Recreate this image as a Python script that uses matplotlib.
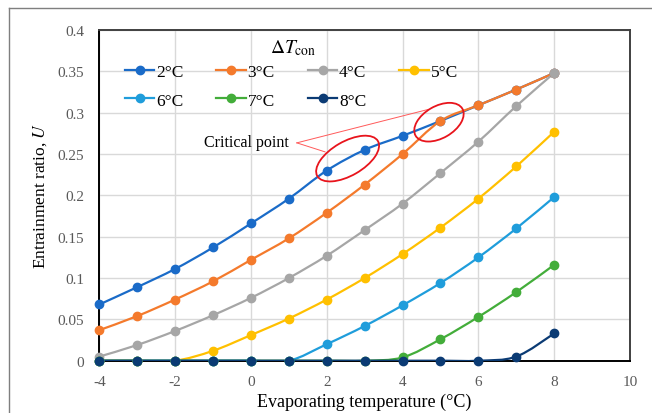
import matplotlib.pyplot as plt
import numpy as np
from matplotlib.path import Path
from matplotlib.patches import PathPatch, Ellipse
from matplotlib.lines import Line2D
from matplotlib.transforms import ScaledTranslation

plt.rcParams['font.family'] = ['Liberation Serif', 'DejaVu Serif']
plt.rcParams['mathtext.fontset'] = 'stix'
plt.rcParams['axes.unicode_minus'] = False

# evaporating temperature (degC)
t_evap = [-4, -3, -2, -1, 0, 1, 2, 3, 4, 5, 6, 7, 8]

# entrainment ratio U for each condensing temperature difference
u_2 = [0.068, 0.089, 0.111, 0.137, 0.166, 0.196, 0.230, 0.255, 0.272, 0.290, 0.309, 0.328, 0.348]
u_3 = [0.037, 0.054, 0.074, 0.096, 0.122, 0.148, 0.179, 0.213, 0.250, 0.290, 0.309, 0.328, 0.348]
u_4 = [0.005, 0.019, 0.036, 0.055, 0.076, 0.100, 0.127, 0.158, 0.190, 0.227, 0.265, 0.308, 0.348]
u_5 = [0.0, 0.0, 0.0, 0.012, 0.031, 0.051, 0.074, 0.100, 0.129, 0.161, 0.196, 0.235, 0.277]
u_6 = [0.0, 0.0, 0.0, 0.0, 0.0, 0.0, 0.020, 0.042, 0.067, 0.094, 0.125, 0.160, 0.198]
u_7 = [0.0, 0.0, 0.0, 0.0, 0.0, 0.0, 0.0, 0.0, 0.004, 0.026, 0.053, 0.083, 0.116]
u_8 = [0.0, 0.0, 0.0, 0.0, 0.0, 0.0, 0.0, 0.0, 0.0, 0.0, 0.0, 0.005, 0.033]

series = [u_2, u_3, u_4, u_5, u_6, u_7, u_8]
labels = ['2°C', '3°C', '4°C', '5°C', '6°C', '7°C', '8°C']
colors = ['#1a6bc8', '#f47a2c', '#a6a6a6', '#ffc000', '#1f9ddb', '#43ad3a', '#0b3b74']


def smooth_path(x, y):
    # Excel style smoothed line: cubic bezier through every point
    p = np.column_stack([x, y]).astype(float)
    n = len(p)
    verts = [p[0]]
    codes = [Path.MOVETO]
    for i in range(n - 1):
        p0 = p[i - 1] if i > 0 else p[i]
        p3 = p[i + 2] if i + 2 < n else p[i + 1]
        c1 = p[i] + (p[i + 1] - p0) / 6
        c2 = p[i + 1] - (p3 - p[i]) / 6
        verts += [c1, c2, p[i + 1]]
        codes += [Path.CURVE4] * 3
    return Path(verts, codes)


fig = plt.figure(figsize=(6.52, 4.14), dpi=100)
ax = fig.add_axes([0.1523, 0.1263, 0.8140, 0.7988])

handles = []
for vals, lab, col in zip(series, labels, colors):
    ax.add_patch(PathPatch(smooth_path(t_evap, vals), facecolor='none',
                           edgecolor=col, lw=1.6, zorder=3))
    ax.plot(t_evap, vals, ls='none', marker='o', ms=6, color=col,
            clip_on=False, zorder=4)
    handles.append(Line2D([], [], color=col, lw=1.6, marker='o', ms=6))

ax.set_xlim(-4, 10)
ax.set_ylim(0, 0.4)
ax.set_xticks(np.arange(-4, 11, 2))
ax.set_yticks(np.arange(0, 0.41, 0.05))
ax.set_yticklabels(['0', '0.05', '0.1', '0.15', '0.2', '0.25', '0.3', '0.35', '0.4'])
ax.grid(color='#d9d9d9', lw=1)
ax.set_axisbelow(True)
ax.tick_params(length=0, labelsize=11, labelcolor='#595959')
ax.tick_params(axis='x', pad=10.5)
ax.tick_params(axis='y', pad=11)
for s in ['left', 'bottom']:
    ax.spines[s].set_color('black')
    ax.spines[s].set_linewidth(1.4)
for s in ['top', 'right']:
    ax.spines[s].set_color('#404040')
    ax.spines[s].set_linewidth(1.4)

ax.set_xlabel('Evaporating temperature (°C)', fontsize=13, labelpad=3)
ax.set_ylabel('Entrainment ratio, $U$', fontsize=12.5, labelpad=6)

# legend: row 1 -> 2,3,4,5 ; row 2 -> 6,7,8
order = [0, 4, 1, 5, 2, 6, 3]
leg = ax.legend([handles[i] for i in order], [labels[i] for i in order],
                ncol=4, loc='upper left', bbox_to_anchor=(0.048, 0.898),
                frameon=False, fontsize=12.5, handlelength=1.7,
                handletextpad=0.1, columnspacing=1.9, labelspacing=0.72,
                borderpad=0, borderaxespad=0)
ax.text(0.365, 0.948, r'$\Delta T_{\mathrm{con}}$', transform=ax.transAxes,
        fontsize=14, ha='center', va='center')

# critical point callout
ax.text(-0.11, 0.264, 'Critical point', fontsize=11.5, ha='center', va='center')
ax.plot([1.21, 1.955], [0.2635, 0.2526], color='#ff5a5a', lw=0.7, zorder=5)
ax.plot([1.21, 4.673], [0.2635, 0.3039], color='#ff5a5a', lw=0.7, zorder=5)
for cx, cy, w, h in [(2.55, 0.2445, 70, 34), (4.96, 0.2885, 54, 32)]:
    tr = fig.dpi_scale_trans + ScaledTranslation(cx, cy, ax.transData)
    ax.add_patch(Ellipse((0, 0), w / 100, h / 100, angle=30, transform=tr,
                         facecolor='none', edgecolor='#e8141c', lw=1.3,
                         zorder=6, clip_on=False))

# outer frame of the figure (left and top edges visible)
fig.add_artist(Line2D([9 / 652, 9 / 652], [0, 1 - 9 / 414],
                      transform=fig.transFigure, color='#7f7f7f', lw=1))
fig.add_artist(Line2D([9 / 652, 1], [1 - 9 / 414, 1 - 9 / 414],
                      transform=fig.transFigure, color='#7f7f7f', lw=1))

fig.savefig('out.png', dpi=100)
